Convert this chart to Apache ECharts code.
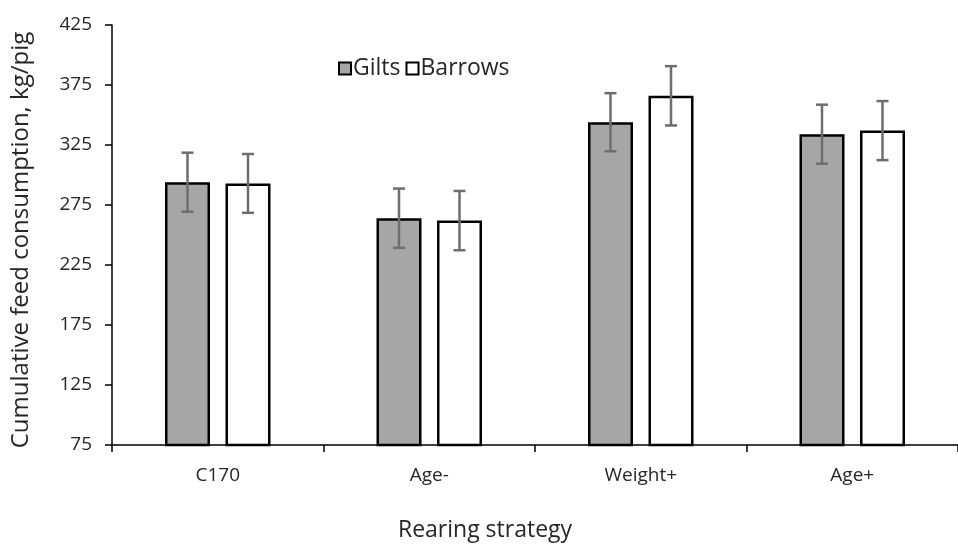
<!DOCTYPE html>
<html>
<head>
<meta charset="utf-8">
<script src="https://cdn.jsdelivr.net/npm/echarts@6/dist/echarts.min.js"></script>
<style>
  html, body { margin: 0; padding: 0; background: #fff; }
  #chart { width: 958px; height: 545px; }
</style>
</head>
<body>
<div id="chart"></div>
<script>
// Rearing strategies on the category axis
const categories = ['C170', 'Age-', 'Weight+', 'Age+'];
// Mean cumulative feed consumption (kg/pig)
const gilts = [294, 264, 344, 334];
const barrows = [293, 262, 366, 337];
// Error bar half-widths (kg/pig)
const giltsErr = [24.6, 24.7, 24.2, 24.6];
const barrowsErr = [24.5, 24.7, 24.7, 24.6];
// Value axis ticks
const yTicks = [75, 125, 175, 225, 275, 325, 375, 425];

const FONT = '"Open Sans", "Noto Sans", sans-serif';
const FS = 19;       // tick labels
const FS_TITLE = 23; // axis titles and legend
const TEXT = '#262626';
const BAR_W = 45;
const BAR_GAP_PX = 15.5;

function errorSeries(name, means, errs, side) {
  return {
    type: 'custom',
    name: name + ' error',
    z: 5,
    silent: true,
    data: means.map((m, i) => [i, m - errs[i], m + errs[i]]),
    renderItem: function (params, api) {
      const i = api.value(0);
      const lo = api.coord([i, api.value(1)]);
      const hi = api.coord([i, api.value(2)]);
      const x = lo[0] + side * (BAR_W + BAR_GAP_PX) / 2;
      const cap = 6;
      const style = { stroke: '#6e6e6e', lineWidth: 2.5, fill: null };
      return {
        type: 'group',
        children: [
          { type: 'line', shape: { x1: x, y1: lo[1], x2: x, y2: hi[1] }, style: style },
          { type: 'line', shape: { x1: x - cap, y1: hi[1], x2: x + cap, y2: hi[1] }, style: style },
          { type: 'line', shape: { x1: x - cap, y1: lo[1], x2: x + cap, y2: lo[1] }, style: style }
        ]
      };
    }
  };
}

const chart = echarts.init(document.getElementById('chart'), null, { renderer: 'canvas' });
chart.setOption({
  animation: false,
  backgroundColor: '#ffffff',
  textStyle: { fontFamily: FONT },
  grid: { left: 112, right: -12, top: 25, bottom: 100, containLabel: false },
  legend: {
    data: ['Gilts', 'Barrows'],
    left: 333,
    top: 52,
    itemWidth: 12,
    itemHeight: 12,
    itemGap: 5,
    icon: 'rect',
    textStyle: { fontFamily: FONT, fontSize: FS_TITLE, color: TEXT, padding: [0, 0, 0, -3] }
  },
  xAxis: {
    type: 'category',
    data: categories,
    axisLine: { lineStyle: { color: '#000', width: 1.5 } },
    axisTick: { show: true, length: 7, lineStyle: { color: '#000', width: 1.5 } },
    axisLabel: { margin: 21, fontFamily: FONT, fontSize: FS, color: TEXT }
  },
  yAxis: {
    type: 'value',
    min: 75,
    max: 425,
    name: 'Cumulative feed consumption, kg/pig',
    nameLocation: 'middle',
    nameGap: 79,
    nameTextStyle: { fontFamily: FONT, fontSize: 24, color: TEXT, padding: [0, 0, 0, -10] },
    axisLine: { show: true, lineStyle: { color: '#000', width: 1.5 } },
    axisTick: { show: true, length: 7, customValues: yTicks, lineStyle: { color: '#000', width: 1.5 } },
    axisLabel: { margin: 20, customValues: yTicks, fontFamily: FONT, fontSize: FS, color: TEXT },
    splitLine: { show: false }
  },
  graphic: [{
    type: 'text',
    x: 485,
    y: 530,
    style: {
      text: 'Rearing strategy',
      font: FS_TITLE + 'px ' + FONT,
      fill: TEXT,
      textAlign: 'center',
      textVerticalAlign: 'middle'
    }
  }],
  series: [
    {
      name: 'Gilts',
      type: 'bar',
      data: gilts,
      barWidth: BAR_W,
      barGap: (BAR_GAP_PX / BAR_W * 100) + '%',
      itemStyle: { color: '#a6a6a6', borderColor: '#000', borderWidth: 2.5 }
    },
    {
      name: 'Barrows',
      type: 'bar',
      data: barrows,
      barWidth: BAR_W,
      itemStyle: { color: '#ffffff', borderColor: '#000', borderWidth: 2.5 }
    },
    errorSeries('Gilts', gilts, giltsErr, -1),
    errorSeries('Barrows', barrows, barrowsErr, 1)
  ]
});
</script>
</body>
</html>
